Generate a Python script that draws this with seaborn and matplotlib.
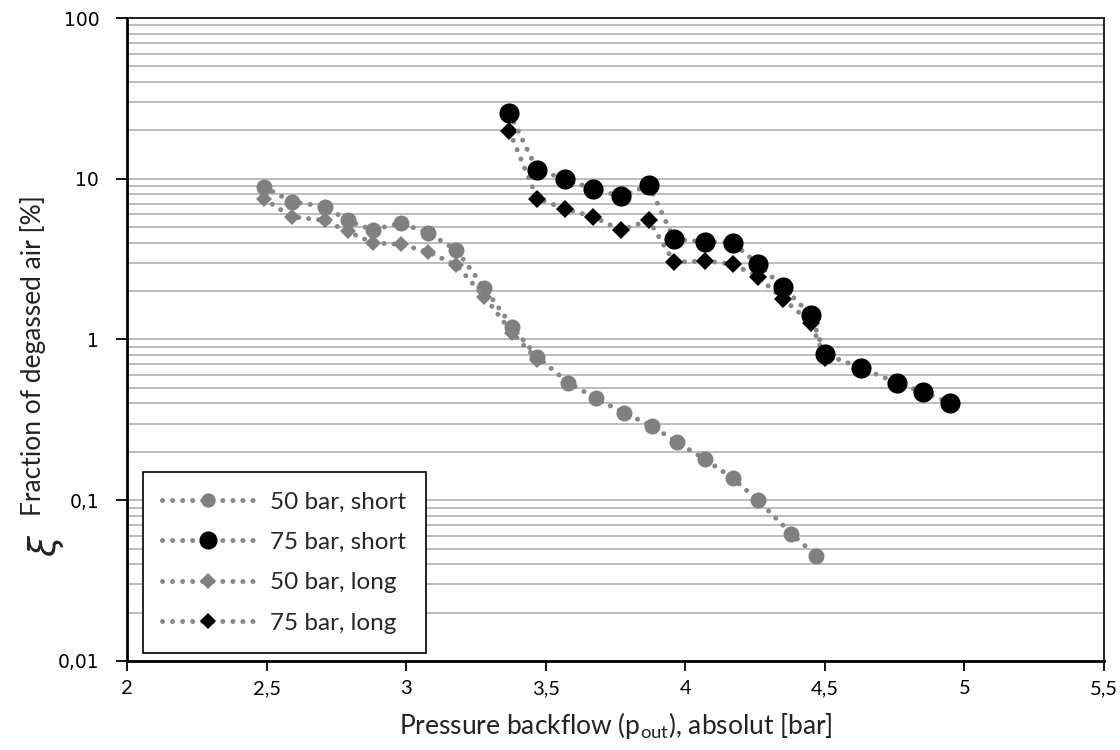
import matplotlib
matplotlib.use("Agg")
import matplotlib.pyplot as plt
import seaborn as sns
import numpy as np
from matplotlib.ticker import FixedLocator, FuncFormatter, LogLocator, NullFormatter

# ---- data ----
x_50_short = [2.49, 2.59, 2.71, 2.79, 2.88, 2.98, 3.08, 3.18, 3.28, 3.38, 3.47,
              3.58, 3.68, 3.78, 3.88, 3.97, 4.07, 4.17, 4.26, 4.38, 4.47]
y_50_short = [8.9, 7.2, 6.7, 5.5, 4.8, 5.3, 4.6, 3.6, 2.1, 1.2, 0.78,
              0.54, 0.43, 0.35, 0.29, 0.23, 0.18, 0.137, 0.10, 0.062, 0.045]

x_75_short = [3.37, 3.47, 3.57, 3.67, 3.77, 3.87, 3.96, 4.07, 4.17, 4.26, 4.35,
              4.45, 4.50, 4.63, 4.76, 4.85, 4.95]
y_75_short = [25.6, 11.3, 10.0, 8.6, 7.8, 9.1, 4.2, 4.05, 4.0, 2.95, 2.12,
              1.42, 0.81, 0.665, 0.536, 0.471, 0.403]

x_50_long = [2.49, 2.59, 2.71, 2.79, 2.88, 2.98, 3.08, 3.18, 3.28, 3.38, 3.47]
y_50_long = [7.5, 5.8, 5.5, 4.7, 4.0, 3.9, 3.5, 2.9, 1.85, 1.1, 0.75]

x_75_long = [3.37, 3.47, 3.57, 3.67, 3.77, 3.87, 3.96, 4.07, 4.17, 4.26, 4.35, 4.45, 4.50]
y_75_long = [19.8, 7.5, 6.5, 5.8, 4.8, 5.5, 3.03, 3.08, 2.95, 2.45, 1.79, 1.27, 0.77]

labels = ["50 bar, short", "75 bar, short", "50 bar, long", "75 bar, long"]
x_ticks = [2, 2.5, 3, 3.5, 4, 4.5, 5, 5.5]
y_ticks = [0.01, 0.1, 1, 10, 100]

# ---- style ----
sns.set_theme(style="white")
plt.rcParams['font.family'] = ['Lato', 'DejaVu Sans']

fig = plt.figure(figsize=(11.2, 7.5), dpi=100)
ax = fig.add_axes([0.1134, 0.1187, 0.8723, 0.8573])

GRAY = "#808080"
LINE = "#888888"
dot = (0, (0.01, 2.0))

series = [
    (x_50_short, y_50_short, labels[0], "o", 11.5, GRAY, 3),
    (x_75_short, y_75_short, labels[1], "o", 14.5, "black", 4),
    (x_50_long, y_50_long, labels[2], "D", 8.5, GRAY, 5),
    (x_75_long, y_75_long, labels[3], "D", 9.5, "black", 2),
]
for xs, ys, lab, mk, ms, col, z in series:
    sns.lineplot(x=xs, y=ys, ax=ax, sort=False, estimator=None, label=lab,
                 color=LINE, linestyle=dot, linewidth=3.6, dash_capstyle="round",
                 marker=mk, markersize=ms, markerfacecolor=col,
                 markeredgecolor=col, markeredgewidth=0, zorder=z)

ax.set_yscale("log")
ax.set_xlim(2, 5.5)
ax.set_ylim(0.01, 100)

# grid
ax.yaxis.set_major_locator(FixedLocator(y_ticks))
ax.yaxis.set_minor_locator(LogLocator(base=10, subs=np.arange(2, 10)))
ax.yaxis.set_minor_formatter(NullFormatter())
ax.grid(True, which="both", axis="y", color="#bdbdbd", linewidth=1.4, zorder=0)
ax.grid(False, axis="x")
ax.set_axisbelow(True)

ax.xaxis.set_major_locator(FixedLocator(x_ticks))
fmt = lambda v, p: ("%g" % v).replace(".", ",")
ax.xaxis.set_major_formatter(FuncFormatter(fmt))
ax.yaxis.set_major_formatter(FuncFormatter(fmt))

ax.tick_params(axis="x", which="major", direction="out", length=7, width=1.3,
               color="black", labelsize=14.5, labelcolor="black", pad=7, bottom=True)
ax.tick_params(axis="y", which="major", direction="out", length=8, width=1.3,
               color="black", labelsize=13, labelcolor="black", pad=12, left=True)
ax.tick_params(axis="y", which="minor", left=False)
for lbl in ax.get_yticklabels():
    lbl.set_fontfamily("DejaVu Sans")
    lbl.set_fontsize(13.5)

for side in ["left", "bottom", "top", "right"]:
    ax.spines[side].set_color("black")
    ax.spines[side].set_visible(True)
ax.spines["left"].set_linewidth(2)
ax.spines["bottom"].set_linewidth(2)
ax.spines["top"].set_linewidth(1.2)
ax.spines["right"].set_linewidth(1.2)

ax.set_xlabel(r"Pressure backflow (p$_{\mathregular{out}}$), absolut [bar]",
              fontsize=19, color="#222222", labelpad=9)
ax.set_ylabel("Fraction of degassed air [%]", fontsize=19, color="#222222")
ax.yaxis.set_label_coords(-0.083, 0.475)
ax.text(-0.083, 0.18, r"$\xi$", transform=ax.transAxes, rotation=90,
        fontsize=27, ha="center", va="center", color="#222222")

leg = ax.legend(loc="lower left", bbox_to_anchor=(0.016, 0.012), borderaxespad=0,
                fontsize=17.5, frameon=True, fancybox=False, handlelength=3.8,
                labelspacing=0.8, borderpad=0.8, handletextpad=0.65)
leg.get_frame().set_edgecolor("black")
leg.get_frame().set_linewidth(1.2)
leg.get_frame().set_alpha(1)
for h in leg.legend_handles:
    h.set_markersize(h.get_markersize() * 0.9)

fig.savefig("out.png", dpi=100)
